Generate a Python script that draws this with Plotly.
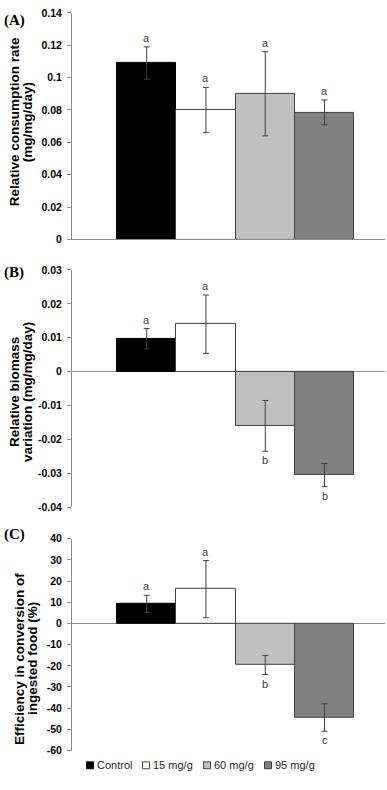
import plotly.graph_objects as go

# ---------------- data ----------------
groups = ["Control", "15 mg/g", "60 mg/g", "95 mg/g"]
bar_colors = ["#000000", "#ffffff", "#c0c0c0", "#808080"]
edge_colors = ["#000000", "#404040", "#404040", "#404040"]

consumption = [0.109, 0.080, 0.090, 0.0785]
consumption_err = [0.010, 0.014, 0.026, 0.0077]
consumption_letters = ["a", "a", "a", "a"]

biomass = [0.0097, 0.0140, -0.0160, -0.0305]
biomass_err = [0.0030, 0.0086, 0.0075, 0.0034]
biomass_letters = ["a", "a", "b", "b"]

efficiency = [9.3, 16.2, -19.6, -44.4]
efficiency_err = [4.0, 13.5, 4.5, 6.5]
efficiency_letters = ["a", "a", "b", "c"]

ticks_a = [0, 0.02, 0.04, 0.06, 0.08, 0.10, 0.12, 0.14]
ticklabels_a = ["0", "0.02", "0.04", "0.06", "0.08", "0.1", "0.12", "0.14"]
ticks_b = [-0.04, -0.03, -0.02, -0.01, 0, 0.01, 0.02, 0.03]
ticklabels_b = ["-0.04", "-0.03", "-0.02", "-0.01", "0", "0.01", "0.02", "0.03"]
ticks_c = [-60, -50, -40, -30, -20, -10, 0, 10, 20, 30, 40]
ticklabels_c = ["-60", "-50", "-40", "-30", "-20", "-10", "0", "10", "20", "30", "40"]

panel_labels = ["(A)", "(B)", "(C)"]
ytitles = [
    ["Relative consumption rate", "(mg/mg/day)"],
    ["Relative biomass", "variation (mg/mg/day)"],
    ["Efficiency in conversion of", "ingested food (%)"],
]

# ---------------- layout helpers ----------------
W, H = 387, 790
def fx(p):
    return p / W
def fy(p):
    return 1 - p / H

AX = "#8c8c8c"
TXT = "#404040"
SANS = "Arial, Liberation Sans, sans-serif"
SERIF = "Times New Roman, Liberation Serif, serif"

panels = [
    dict(vals=consumption, errs=consumption_err, letters=consumption_letters,
         ticks=ticks_a, labels=ticklabels_a, rng=[0, 0.14], top=7, bot=237,
         title_x=14, title_c=118, lab_y=15),
    dict(vals=biomass, errs=biomass_err, letters=biomass_letters,
         ticks=ticks_b, labels=ticklabels_b, rng=[-0.04, 0.03], top=268, bot=509,
         title_x=14, title_c=392, lab_y=271),
    dict(vals=efficiency, errs=efficiency_err, letters=efficiency_letters,
         ticks=ticks_c, labels=ticklabels_c, rng=[-60, 40], top=541, bot=756,
         title_x=20, title_c=663, lab_y=537),
]

fig = go.Figure()
annotations = []
shapes = []
layout = {}

for k, p in enumerate(panels):
    sfx = "" if k == 0 else str(k + 1)
    xa, ya = "x" + sfx, "y" + sfx
    for i, g in enumerate(groups):
        fig.add_trace(go.Bar(
            x=[g], y=[p["vals"][i]], name=g, showlegend=False,
            marker=dict(color=bar_colors[i], line=dict(color=edge_colors[i], width=1)),
            error_y=dict(type="data", array=[p["errs"][i]], color=TXT, thickness=1, width=3),
            xaxis=xa, yaxis=ya,
        ))
        v, e = p["vals"][i], p["errs"][i]
        pos = v >= 0
        annotations.append(dict(
            x=g, y=(v + e) if pos else (v - e), xref=xa, yref=ya,
            text=p["letters"][i], showarrow=False,
            yanchor="bottom" if pos else "top", yshift=1 if pos else -1,
            font=dict(family=SANS, size=11, color=TXT),
        ))
    layout["xaxis" + sfx] = dict(
        domain=[fx(72), fx(385)], type="category", range=[-1.26, 4.02],
        showticklabels=False, ticks="", showgrid=False, zeroline=False,
        showline=(k == 0), linecolor=AX, linewidth=1, anchor=ya,
    )
    layout["yaxis" + sfx] = dict(
        domain=[fy(p["bot"]), fy(p["top"])], range=p["rng"],
        tickvals=p["ticks"], ticktext=p["labels"],
        tickfont=dict(family=SANS, size=10.5, color="#000000", weight="bold"),
        ticks="outside", ticklen=4, tickcolor=AX, ticklabelstandoff=3,
        showline=True, linecolor=AX,
        linewidth=1, showgrid=False, zeroline=(k != 0), zerolinecolor=AX,
        zerolinewidth=1, anchor=xa,
    )
    # panel label
    annotations.append(dict(
        x=fx(2), y=fy(p["lab_y"]), xref="paper", yref="paper",
        xanchor="left", yanchor="middle", showarrow=False, text="<b>" + panel_labels[k] + "</b>",
        font=dict(family=SERIF, size=15, color="#000000"),
    ))
    # y-axis title, two lines
    for j, line in enumerate(ytitles[k]):
        annotations.append(dict(
            x=fx(p["title_x"] + 13 * j), y=fy(p["title_c"]), xref="paper", yref="paper",
            xanchor="center", yanchor="middle", showarrow=False, textangle=-90,
            text="<b>" + line + "</b>",
            font=dict(family=SANS, size=13.5, color="#000000"),
        ))

# legend (drawn as small squares + text under panel C)
legend_sq_x = [90, 146, 207, 268]
legend_y = 771
for i, g in enumerate(groups):
    cx = legend_sq_x[i]
    shapes.append(dict(
        type="rect", xref="paper", yref="paper",
        x0=fx(cx - 3.5), x1=fx(cx + 3.5), y0=fy(legend_y + 3.5), y1=fy(legend_y - 3.5),
        fillcolor=bar_colors[i], line=dict(color=edge_colors[i], width=1),
    ))
    annotations.append(dict(
        x=fx(cx + 5), y=fy(legend_y), xref="paper", yref="paper",
        xanchor="left", yanchor="middle", showarrow=False, text=g,
        font=dict(family=SANS, size=11, color="#262626"),
    ))

fig.update_layout(
    width=W, height=H, margin=dict(l=0, r=0, t=0, b=0),
    paper_bgcolor="white", plot_bgcolor="white",
    barmode="overlay", bargap=0, showlegend=False,
    annotations=annotations, shapes=shapes,
    **layout,
)

fig.write_html(
    "out.html",
    config={"displayModeBar": False},
    post_script="document.body.style.margin='0px';document.body.style.overflow='hidden';",
)
